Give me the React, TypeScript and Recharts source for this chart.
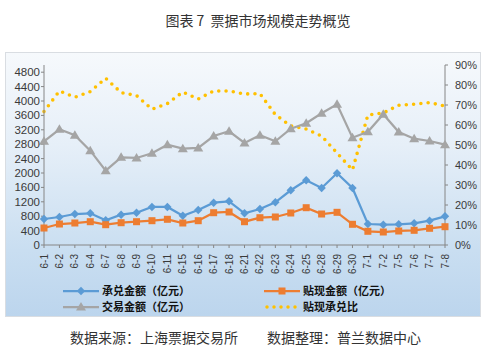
import React from 'react';
import { LineChart, Line, XAxis, YAxis } from 'recharts';

// 日期
const dates = ['6-1', '6-2', '6-3', '6-4', '6-7', '6-8', '6-9', '6-10', '6-11', '6-15', '6-16', '6-17', '6-18', '6-21', '6-22', '6-23', '6-24', '6-25', '6-28', '6-29', '6-30', '7-1', '7-2', '7-5', '7-6', '7-7', '7-8'];
// 承兑金额（亿元）
const acceptance = [722, 778, 861, 881, 686, 842, 897, 1056, 1056, 814, 972, 1175, 1214, 881, 1000, 1186, 1520, 1797, 1583, 1992, 1583, 583, 564, 575, 603, 675, 797];
// 贴现金额（亿元）
const discount = [472, 583, 611, 647, 564, 619, 647, 675, 714, 611, 675, 897, 917, 647, 758, 778, 889, 1036, 861, 908, 575, 381, 361, 389, 408, 464, 508];
// 交易金额（亿元）
const trading = [2881, 3214, 3047, 2620, 2064, 2436, 2417, 2547, 2786, 2675, 2695, 3028, 3159, 2834, 3047, 2881, 3231, 3381, 3659, 3909, 2981, 3147, 3631, 3139, 2953, 2889, 2786];
// 贴现承兑比（%）
const ratio = [66.7, 77.0, 73.9, 76.7, 83.4, 76.2, 74.7, 67.9, 70.7, 76.5, 73.0, 77.0, 77.0, 75.5, 75.7, 65.2, 59.5, 58.0, 54.5, 46.0, 37.5, 65.0, 66.0, 69.9, 70.4, 71.2, 69.5];

const leftTicks = [0, 400, 800, 1200, 1600, 2000, 2400, 2800, 3200, 3600, 4000, 4400, 4800];
const rightTicks = [0, 10, 20, 30, 40, 50, 60, 70, 80, 90];

const data = dates.map((d, i) => ({
  date: d,
  acceptance: acceptance[i],
  discount: discount[i],
  trading: trading[i],
  ratio: ratio[i],
}));

const BLUE = '#5B9BD5';
const ORANGE = '#ED7D31';
const GRAY = '#A5A5A5';
const GOLD = '#FFC000';
const AXIS = '#868686';
const LABEL = '#3a3a3a';

const Diamond = (props: any) => {
  const { cx, cy } = props;
  if (cx == null || cy == null) return null;
  const r = 4.2;
  return <polygon key={`d-${props.index}`} points={`${cx},${cy - r} ${cx + r},${cy} ${cx},${cy + r} ${cx - r},${cy}`} fill={BLUE} />;
};

const Square = (props: any) => {
  const { cx, cy } = props;
  if (cx == null || cy == null) return null;
  const s = 7;
  return <rect key={`s-${props.index}`} x={cx - s / 2} y={cy - s / 2} width={s} height={s} fill={ORANGE} />;
};

const Triangle = (props: any) => {
  const { cx, cy } = props;
  if (cx == null || cy == null) return null;
  const r = 5;
  return <polygon key={`t-${props.index}`} points={`${cx},${cy - r} ${cx + r},${cy + r * 0.7} ${cx - r},${cy + r * 0.7}`} fill={GRAY} />;
};

const DateTick = (props: any) => {
  const { x, y, payload } = props;
  const ty = y + 4;
  return (
    <text x={x} y={ty} dy="0.35em" textAnchor="end" transform={`rotate(-90, ${x}, ${ty})`} fontSize={10} fill={LABEL} fontFamily="'Liberation Sans', Arial, sans-serif">
      {payload.value}
    </text>
  );
};

const LegendIcon = ({ color, kind }: { color: string; kind: string }) => (
  <svg width={36} height={12} style={{ display: 'block' }}>
    {kind === 'dots' ? (
      <line x1={3} y1={6} x2={34} y2={6} stroke={GOLD} strokeWidth={3.5} strokeLinecap="round" strokeDasharray="0 7" />
    ) : (
      <line x1={0} y1={6} x2={36} y2={6} stroke={color} strokeWidth={2.25} />
    )}
    {kind === 'diamond' && <Diamond cx={18} cy={6} />}
    {kind === 'square' && <Square cx={18} cy={6} />}
    {kind === 'triangle' && <Triangle cx={18} cy={6} />}
  </svg>
);

const legendItems = [
  { name: '承兑金额（亿元）', color: BLUE, kind: 'diamond', left: 57, top: 0 },
  { name: '贴现金额（亿元）', color: ORANGE, kind: 'square', left: 258, top: 0 },
  { name: '交易金额（亿元）', color: GRAY, kind: 'triangle', left: 57, top: 16 },
  { name: '贴现承兑比', color: GOLD, kind: 'dots', left: 258, top: 16 },
];

export default function App() {
  return (
    <div style={{ position: 'absolute', left: 0, top: 0, width: 486, height: 364, background: '#ffffff', fontFamily: "'Noto Sans CJK SC', 'Noto Sans', sans-serif", overflow: 'hidden' }}>
      {/* 标题 */}
      <div style={{ position: 'absolute', top: 10, left: 0, width: 486, textAlign: 'center', fontSize: 14, color: '#333333', paddingLeft: 30, boxSizing: 'border-box' }}>
        图表 7&nbsp;&nbsp;票据市场规模走势概览
      </div>

      {/* 图表框 */}
      <div style={{
        position: 'absolute', left: 5, top: 52, width: 476, height: 265, boxSizing: 'border-box',
        border: '1px solid #d9dde2',
        background: 'linear-gradient(to bottom, #f6f9fc 0%, #e6eff8 35%, #c9def1 75%, #bcd5ed 100%)',
      }}>
        <LineChart width={474} height={232} data={data} margin={{ top: 12, right: 0, left: 0, bottom: 0 }}>
          <XAxis
            dataKey="date"
            interval={0}
            height={40}
            tick={<DateTick />}
            tickSize={3}
            stroke={AXIS}
            axisLine={{ stroke: AXIS }}
            tickLine={{ stroke: AXIS }}
          />
          <YAxis
            yAxisId="left"
            width={38}
            domain={[0, 5000]}
            ticks={leftTicks}
            interval={0}
            tickSize={3}
            tickMargin={1}
            stroke={AXIS}
            tick={{ fontSize: 11.5, fill: LABEL, fontFamily: "'Liberation Sans', Arial, sans-serif" }}
          />
          <YAxis
            yAxisId="right"
            orientation="right"
            width={35}
            domain={[0, 90]}
            ticks={rightTicks}
            interval={0}
            tickSize={3}
            tickMargin={7}
            stroke={AXIS}
            tickFormatter={(v) => `${v}%`}
            tick={{ fontSize: 11, fill: LABEL, textAnchor: 'start', fontFamily: "'Liberation Sans', Arial, sans-serif" }}
          />
          <Line yAxisId="right" type="linear" dataKey="ratio" stroke={GOLD} strokeWidth={3.6} strokeLinecap="round" strokeDasharray="0 7.3" dot={false} isAnimationActive={false} />
          <Line yAxisId="left" type="linear" dataKey="trading" stroke={GRAY} strokeWidth={2.25} dot={<Triangle />} activeDot={false} isAnimationActive={false} />
          <Line yAxisId="left" type="linear" dataKey="acceptance" stroke={BLUE} strokeWidth={2.25} dot={<Diamond />} activeDot={false} isAnimationActive={false} />
          <Line yAxisId="left" type="linear" dataKey="discount" stroke={ORANGE} strokeWidth={2.25} dot={<Square />} activeDot={false} isAnimationActive={false} />
        </LineChart>

        {/* 图例 */}
        <div style={{ position: 'absolute', left: 0, top: 230, width: 474, height: 32 }}>
          {legendItems.map((it) => (
            <div key={it.name} style={{ position: 'absolute', left: it.left, top: it.top, display: 'flex', alignItems: 'center', height: 15 }}>
              <LegendIcon color={it.color} kind={it.kind} />
              <span style={{ marginLeft: 3, fontSize: 11, fontWeight: 700, color: '#111111', lineHeight: '15px', whiteSpace: 'nowrap' }}>{it.name}</span>
            </div>
          ))}
        </div>
      </div>

      {/* 来源 */}
      <div style={{ position: 'absolute', top: 327, left: 70, fontSize: 14, color: '#333333', whiteSpace: 'nowrap' }}>
        数据来源：上海票据交易所
      </div>
      <div style={{ position: 'absolute', top: 327, left: 267, fontSize: 14, color: '#333333', whiteSpace: 'nowrap' }}>
        数据整理：普兰数据中心
      </div>
    </div>
  );
}
